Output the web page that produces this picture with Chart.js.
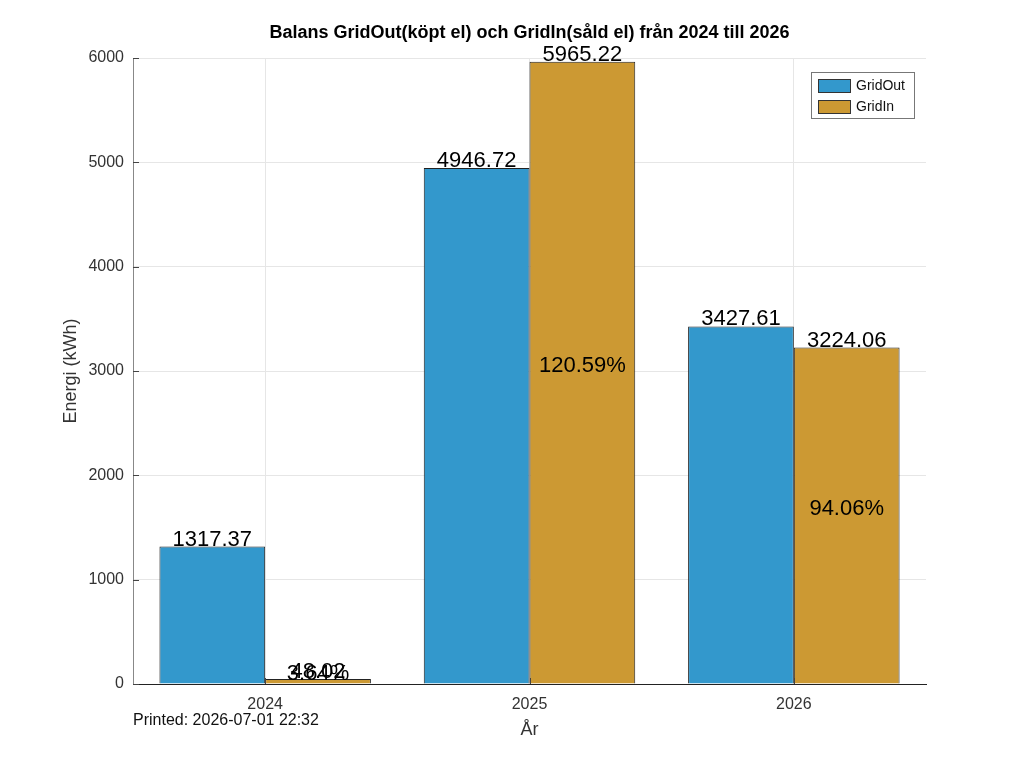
<!DOCTYPE html>
<html>
<head>
<meta charset="utf-8">
<script src="https://cdn.jsdelivr.net/npm/chart.js"></script>
<style>
  html, body { margin: 0; padding: 0; background: #fff; }
  #wrap { width: 1024px; height: 768px; }
</style>
</head>
<body>
<div id="wrap"><canvas id="balansChart" width="1024" height="768"></canvas></div>
<script>
// Data
const years = ['2024', '2025', '2026'];
const gridOut = [1317.37, 4946.72, 3427.61];
const gridIn = [48.02, 5965.22, 3224.06];
const pctLabels = ['3.64%', '120.59%', '94.06%'];
const yTicks = [0, 1000, 2000, 3000, 4000, 5000, 6000];

const blue = 'rgb(51, 152, 204)';
const gold = 'rgb(204, 153, 51)';
const font = '"Liberation Sans", Arial, Helvetica, sans-serif';

// Title, value labels, legend box, inner tick marks and print stamp
const extras = {
    id: 'extras',
    afterDatasetsDraw(chart) {
        const { ctx, chartArea } = chart;
        const xs = chart.scales.x;
        const ys = chart.scales.y;
        ctx.save();

        // inner tick marks
        ctx.strokeStyle = '#444';
        ctx.lineWidth = 1;
        yTicks.forEach(v => {
            const y = Math.round(ys.getPixelForValue(v)) + 0.5;
            ctx.beginPath();
            ctx.moveTo(chartArea.left, y);
            ctx.lineTo(chartArea.left + 6, y);
            ctx.stroke();
        });
        years.forEach((c, i) => {
            const x = Math.round(xs.getPixelForValue(i)) + 0.5;
            ctx.beginPath();
            ctx.moveTo(x, chartArea.bottom);
            ctx.lineTo(x, chartArea.bottom - 6);
            ctx.stroke();
        });

        // value labels on top of the bars, percentages at half height of the GridIn bars
        ctx.fillStyle = '#000';
        ctx.font = '22px ' + font;
        ctx.textAlign = 'center';
        ctx.textBaseline = 'alphabetic';
        chart.data.datasets.forEach((ds, di) => {
            const meta = chart.getDatasetMeta(di);
            meta.data.forEach((bar, i) => {
                ctx.fillText(ds.data[i].toFixed(2), bar.x, bar.y - 1);
                if (di === 1) {
                    ctx.fillText(pctLabels[i], bar.x, (bar.y + bar.base) / 2 - 1);
                }
            });
        });

        // title
        ctx.font = 'bold 18px ' + font;
        ctx.textBaseline = 'middle';
        ctx.fillText('Balans GridOut(köpt el) och GridIn(såld el) från 2024 till 2026',
            (chartArea.left + chartArea.right) / 2, 33);

        // legend
        const lx = 811, ly = 72, lw = 103, lh = 46;
        ctx.fillStyle = '#fff';
        ctx.fillRect(lx, ly, lw, lh);
        ctx.strokeStyle = '#777';
        ctx.strokeRect(lx + 0.5, ly + 0.5, lw, lh);
        ctx.font = '14px ' + font;
        ctx.textAlign = 'left';
        chart.data.datasets.forEach((ds, di) => {
            const y = ly + 7 + di * 21;
            ctx.fillStyle = ds.backgroundColor;
            ctx.fillRect(lx + 7, y, 32, 13);
            ctx.strokeStyle = '#333';
            ctx.strokeRect(lx + 7.5, y + 0.5, 32, 13);
            ctx.fillStyle = '#111';
            ctx.fillText(ds.label, lx + 45, y + 7);
        });

        // print stamp
        ctx.fillStyle = '#111';
        ctx.font = '16px ' + font;
        ctx.fillText('Printed: 2026-07-01 22:32', 133, 721);
        ctx.restore();
    }
};

new Chart(document.getElementById('balansChart'), {
    type: 'bar',
    data: {
        labels: years,
        datasets: [
            { label: 'GridOut', data: gridOut, backgroundColor: blue, borderColor: '#222', borderWidth: 1 },
            { label: 'GridIn', data: gridIn, backgroundColor: gold, borderColor: '#222', borderWidth: 1 }
        ]
    },
    options: {
        responsive: false,
        animation: false,
        layout: { padding: { top: 58, right: 98, left: 0, bottom: 0 } },
        datasets: { bar: { categoryPercentage: 0.8, barPercentage: 1.0 } },
        plugins: {
            legend: { display: false },
            title: { display: false },
            tooltip: { enabled: false }
        },
        scales: {
            x: {
                grid: { offset: false, color: '#e6e6e6', drawTicks: false },
                border: { color: '#222', width: 1 },
                ticks: { color: '#333', font: { size: 16, family: font }, padding: 11 },
                title: { display: true, text: 'År', color: '#333', font: { size: 18, family: font }, padding: { top: 0, bottom: 27 } },
                afterFit(s) { s.height = 84; }
            },
            y: {
                min: 0,
                max: 6000,
                afterBuildTicks(s) { s.ticks = yTicks.map(v => ({ value: v })); },
                grid: { color: '#e6e6e6', drawTicks: false },
                border: { color: '#888', width: 1 },
                ticks: { color: '#333', font: { size: 16, family: font }, padding: 9, callback: v => String(v) },
                title: { display: true, text: 'Energi (kWh)', color: '#333', font: { size: 18, family: font }, padding: { top: 60, bottom: 0 } },
                afterFit(s) { s.width = 133; }
            }
        }
    },
    plugins: [extras]
});
</script>
</body>
</html>
